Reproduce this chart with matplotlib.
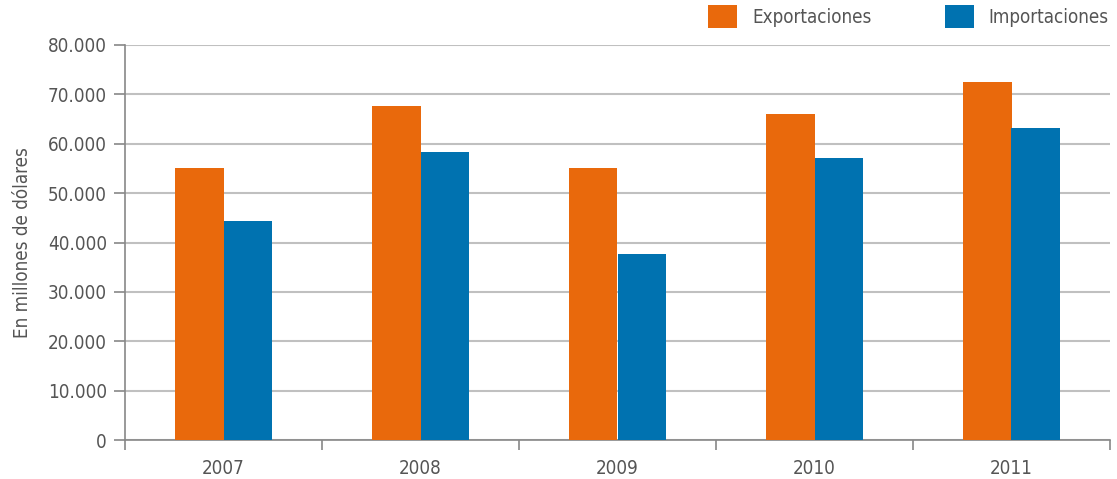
import matplotlib
matplotlib.use("Agg")
import matplotlib.pyplot as plt
import numpy as np
from matplotlib.patches import Patch

years = ["2007", "2008", "2009", "2010", "2011"]
exportaciones = [55000, 67600, 55000, 66000, 72500]
importaciones = [44300, 58300, 37700, 57100, 63200]
yticks = [0, 10000, 20000, 30000, 40000, 50000, 60000, 70000, 80000]
ytick_labels = ["0", "10.000", "20.000", "30.000", "40.000", "50.000", "60.000", "70.000", "80.000"]

plt.rcParams['font.family'] = ['DejaVu Sans']
plt.rcParams['font.stretch'] = 'condensed'
text_color = "#555555"
orange = "#E9690C"
blue = "#0072B0"
fs = 13.5

fig = plt.figure(figsize=(11.17, 4.79), dpi=100)
ax = fig.add_axes([125/1117, 39/479, 985/1117, 395/479])

x = np.arange(len(years))
w = 0.245
ax.bar(x - w/2, exportaciones, width=w, color=orange, label="Exportaciones", zorder=3)
ax.bar(x + w/2, importaciones, width=w, color=blue, label="Importaciones", zorder=3)

ax.set_xlim(-0.5, len(years) - 0.5)
ax.set_ylim(0, 80000)
ax.set_yticks(yticks)
ax.set_yticklabels(ytick_labels)
ax.yaxis.grid(True, color="#c0c0c0", linewidth=1.5, zorder=0)
ax.set_axisbelow(True)

ax.set_xticks(x)
ax.set_xticklabels(years)
ax.set_xticks(np.arange(-0.5, len(years) - 0.4, 1), minor=True)
ax.tick_params(axis='x', which='major', length=0, pad=14, labelsize=fs, labelcolor=text_color)
ax.tick_params(axis='x', which='minor', length=7, width=1.2, color="#888888", direction='out')
ax.tick_params(axis='y', length=8, width=1.2, color="#888888", labelsize=fs, labelcolor=text_color, pad=5)

for s in ["top", "right"]:
    ax.spines[s].set_visible(False)
for s in ["left", "bottom"]:
    ax.spines[s].set_color("#888888")
    ax.spines[s].set_linewidth(1.2)

ax.set_ylabel("En millones de dólares", fontsize=fs, color=text_color, labelpad=12)
ax.yaxis.set_label_coords(-93/985, 0.5)

handles = [Patch(facecolor=orange), Patch(facecolor=blue)]
fig.legend(handles, ["Exportaciones", "Importaciones"], loc="upper right",
           bbox_to_anchor=(1109/1117, 1 - 5/479), ncol=2, frameon=False,
           fontsize=fs, handlelength=1.55, handleheight=1.55, handletextpad=0.8,
           columnspacing=3.9, borderpad=0, borderaxespad=0, labelcolor=text_color)

fig.savefig("out.png", dpi=100)
